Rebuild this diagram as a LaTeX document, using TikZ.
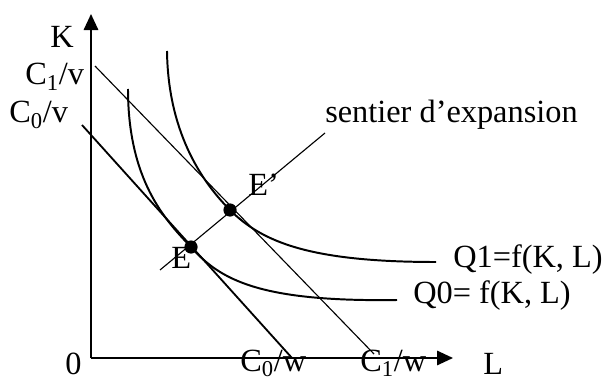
\documentclass[tikz,border=0pt]{standalone}
\usepackage{fontspec}
\setmainfont{Liberation Serif}
\usepackage{tikz}
\usetikzlibrary{arrows.meta}

\begin{document}
\begin{tikzpicture}[
  x=0.025cm, y=-0.025cm,
  lbl/.style={anchor=base west, inner sep=0pt, font=\fontsize{23}{27}\selectfont},
  axis/.style={line width=1.4pt, -{Triangle[length=0.4cm, width=0.36cm]}},
  iso/.style={line width=1.4pt},
  ev/.style={circle, fill=black, minimum size=0.33cm, inner sep=0pt},
]
\useasboundingbox (0,0) rectangle (603,380);
% axes
\coordinate (O) at (91,358);
\coordinate (Ktop) at (91,14);
\coordinate (Lend) at (453,358);
\draw[axis] (O) -- (Ktop);
\draw[axis] (O) -- (Lend);
% budget lines
\coordinate (c1v) at (95,66);
\coordinate (c1w) at (374,354);
\coordinate (c0v) at (82,125);
\coordinate (c0w) at (292,358);
\draw[line width=0.8pt] (c1v) -- (c1w);
\draw[line width=1.3pt] (c0v) -- (c0w);
% equilibria and expansion path
\coordinate (E) at (191,247);
\coordinate (Ep) at (230,210);
\coordinate (p0) at (160,270);
\coordinate (p1) at (325,133);
\draw[line width=0.8pt] (p0) -- (p1);
% isoquants
\coordinate (q0a) at (128,89);
\coordinate (q0b) at (397,300);
\coordinate (q1a) at (167,51);
\coordinate (q1b) at (436,262);
\draw[iso] (q0a) .. controls (128,180) and (165,220) .. (E)
  .. controls (220,280) and (260,302) .. (q0b);
\draw[iso] (q1a) .. controls (168,130) and (200,180) .. (Ep)
  .. controls (262,242) and (310,262) .. (q1b);
\node[ev] (dE) at (E) {};
\node[ev] (dEp) at (Ep) {};
% labels
\node[lbl] (lK) at (50,48) {K};
\node[lbl] (lc1v) at (25,85) {C\textsubscript{1}/v};
\node[lbl] (lc0v) at (9,123) {C\textsubscript{0}/v};
\node[lbl] (l0) at (65,374) {0};
\node[lbl] (lc0w) at (240,371) {C\textsubscript{0}/w};
\node[lbl] (lc1w) at (360,371) {C\textsubscript{1}/w};
\node[lbl] (lL) at (483,374) {L};
\node[lbl] (lq1) at (453,267) {Q1=f(K, L)};
\node[lbl] (lq0) at (413,303) {Q0= f(K, L)};
\node[lbl] (lpath) at (325,123) {sentier d’expansion};
\node[lbl] (lEp) at (248,195) {E’};
\node[lbl] (lE) at (171,268) {E};
\end{tikzpicture}
\end{document}
